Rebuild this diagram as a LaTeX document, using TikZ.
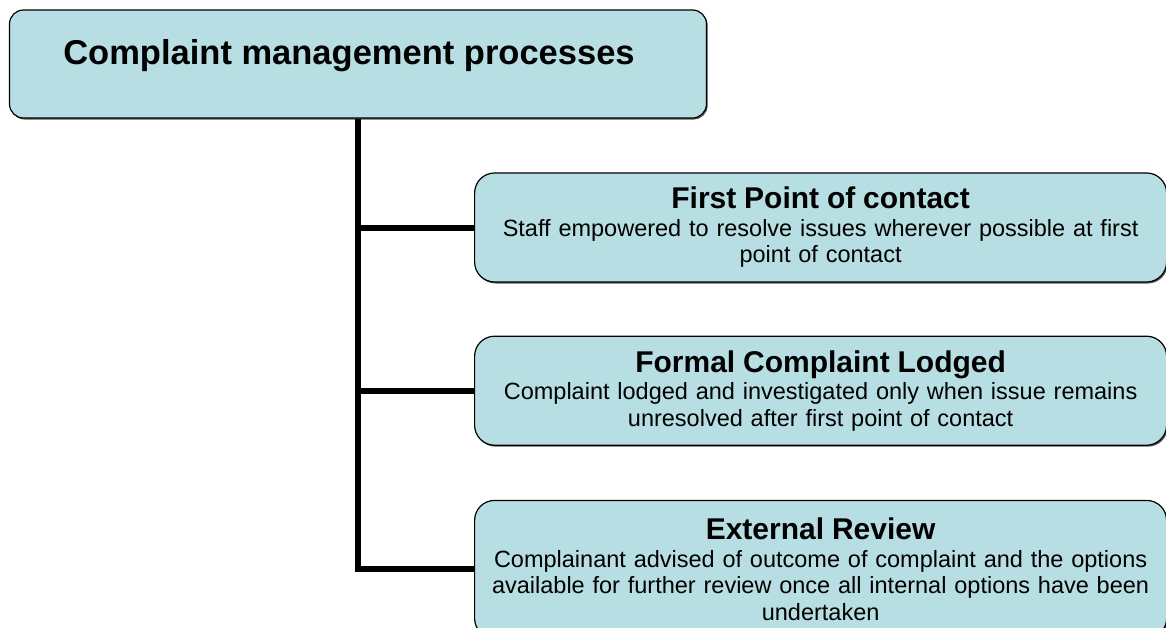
\documentclass[tikz,border=0pt]{standalone}
\usepackage{fontspec}
\setmainfont{Liberation Sans}
\usepackage{tikz}
\usetikzlibrary{positioning, shadows}
\definecolor{boxfill}{HTML}{B7DEE3}
\definecolor{shadowgray}{HTML}{555555}
\newcommand{\rootfont}{\fontsize{34.5}{37}\selectfont\bfseries}
\newcommand{\headfont}{\fontsize{30}{32}\selectfont\bfseries}

\begin{document}
\begin{tikzpicture}[
    x=1pt, y=-1pt,
    node distance=53pt,
    every node/.style={font=\fontsize{23.5}{26.5}\selectfont},
    rootbox/.style={rectangle, draw=black, rounded corners=14pt, fill=boxfill,
                    minimum width=697pt, minimum height=108pt,
                    text height=22pt, text depth=22pt, line width=1.2pt,
                    drop shadow={shadow xshift=1.2pt, shadow yshift=-1.5pt, fill=shadowgray, opacity=1}},
    childbox/.style={rectangle, draw=black, rounded corners=20pt, fill=boxfill,
                     minimum width=692pt, minimum height=109pt,
                     text width=686pt, inner xsep=2pt, align=center, line width=1.2pt,
                     drop shadow={shadow xshift=1.2pt, shadow yshift=-1.5pt, fill=shadowgray, opacity=1}},
    conn/.style={line width=6pt, draw=black}
]
\useasboundingbox (0,0) rectangle (1166,627);

% Root
\node[rootbox] (root) at (358,64) {\rootfont Complaint management processes\hspace*{18pt}};

% Processes
\node[childbox, anchor=west] (contact) at (474,227.5)
    {{\headfont First Point of contact}\\[1pt]
     Staff empowered to resolve issues wherever possible at first\\ point of contact};
\node[childbox, below=of contact] (formal)
    {{\headfont Formal Complaint Lodged}\\[1pt]
     Complaint lodged and investigated only when issue remains\\ unresolved after first point of contact};
\node[childbox, below=54pt of formal, minimum height=138pt] (review)
    {{\headfont External Review}\\[1pt]
     Complainant advised of outcome of complaint and the options\\
     available for further review once all internal options have been\\ undertaken};

% Connectors
\draw[conn] (root.south) |- (contact.west);
\draw[conn] (root.south) |- (formal.west);
\draw[conn] (root.south) |- (review.west);

\end{tikzpicture}
\end{document}
